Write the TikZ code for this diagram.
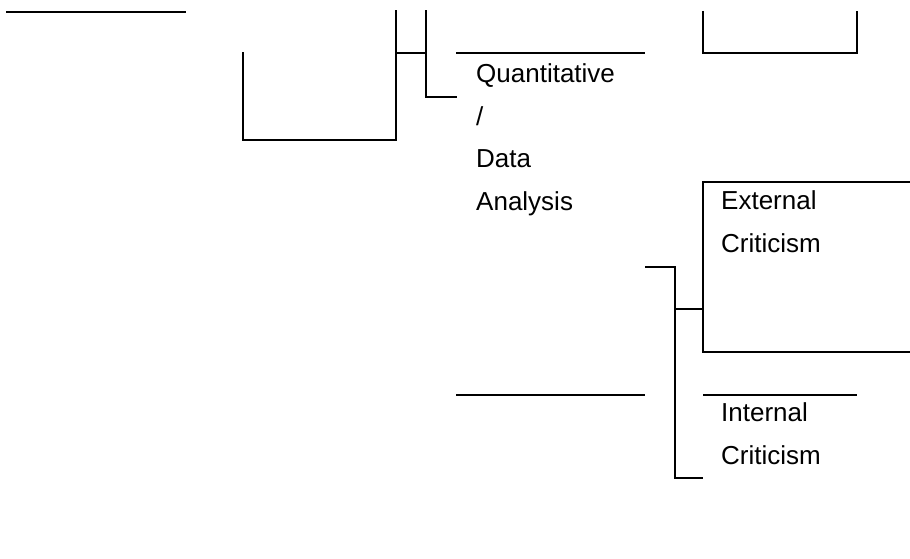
\documentclass[tikz,border=0pt]{standalone}
\usepackage{fontspec}
\setmainfont{Liberation Sans}
\begin{document}
\begin{tikzpicture}[x=1pt,y=-1pt,
  thickline/.style={line width=2pt,line cap=rect},
  thinline/.style={line width=1.5pt},
  lbl/.style={anchor=base west,inner sep=0pt,align=left,font=\fontsize{26}{42.5}\selectfont}]
\useasboundingbox (0,0) rectangle (910,559);
% left part
\draw[thickline] (7,12) -- (185,12);
\draw[thickline] (243,53) -- (243,140) -- (396,140) -- (396,11);
\draw[thickline] (396,53) -- (426,53);
\draw[thickline] (426,11) -- (426,97) -- (456,97);
% quantitative (anchored at last line's baseline)
\draw[thinline] (456,53) -- (645,53);
\node[lbl] (quant) at (476,210) {Quantitative\\/\\Data\\Analysis};
% top right bracket
\draw[thinline] (703,11) -- (703,53) -- (857,53) -- (857,11);
% external box
\draw[thinline] (910,182) -- (703,182) -- (703,352) -- (910,352);
\node[lbl] (ext) at (721,252) {External\\Criticism};
% connectors
\draw[thinline] (645,267) -- (675,267) -- (675,478) -- (703,478);
\draw[thinline] (675,309) -- (703,309);
\draw[thinline] (456,395) -- (645,395);
\draw[thinline] (703,395) -- (857,395);
\node[lbl] (int) at (721,464) {Internal\\Criticism};
\end{tikzpicture}
\end{document}
